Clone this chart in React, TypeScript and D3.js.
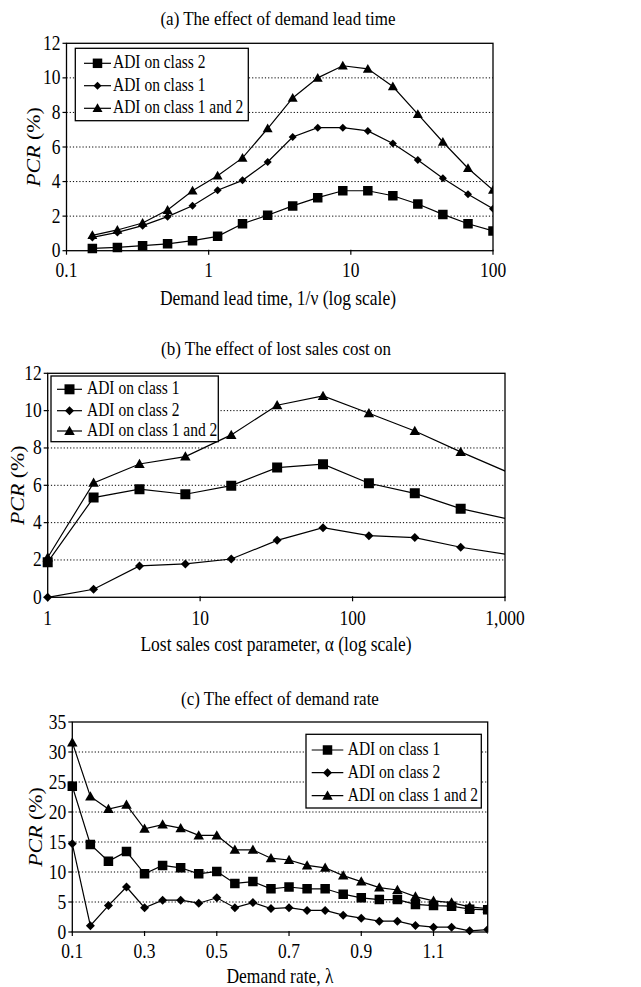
import * as d3 from "d3";

// (a) demand lead time
const leadTime = [0.152, 0.228, 0.343, 0.514, 0.77, 1.156, 1.73, 2.6, 3.9, 5.85, 8.78, 13.17, 19.75, 29.6, 44.4, 66.7, 100];
const leadClass2 = [0.13, 0.19, 0.29, 0.4, 0.58, 0.83, 1.56, 2.05, 2.59, 3.07, 3.47, 3.47, 3.18, 2.7, 2.1, 1.56, 1.14];
const leadClass1 = [0.77, 1.06, 1.45, 1.97, 2.6, 3.5, 4.07, 5.13, 6.58, 7.12, 7.12, 6.93, 6.2, 5.25, 4.19, 3.26, 2.43];
const leadBoth = [0.89, 1.2, 1.6, 2.35, 3.47, 4.34, 5.37, 7.07, 8.84, 10.0, 10.7, 10.52, 9.5, 7.9, 6.29, 4.77, 3.51];

// (b) lost sales cost
const alpha = [1, 2, 4, 8, 16, 32, 64, 128, 256, 512, 1024];
const costClass1 = [1.88, 5.34, 5.79, 5.52, 5.98, 6.95, 7.13, 6.11, 5.57, 4.75, 4.21];
const costClass2 = [0, 0.43, 1.68, 1.79, 2.05, 3.05, 3.73, 3.3, 3.2, 2.68, 2.3];
const costBoth = [2.13, 6.13, 7.14, 7.54, 8.7, 10.29, 10.79, 9.86, 8.91, 7.79, 6.73];

// (c) demand rate
const lambda = [0.1, 0.15, 0.2, 0.25, 0.3, 0.35, 0.4, 0.45, 0.5, 0.55, 0.6, 0.65, 0.7, 0.75, 0.8, 0.85, 0.9, 0.95, 1.0, 1.05, 1.1, 1.15, 1.2, 1.25];
const rateClass1 = [24.3, 14.6, 11.8, 13.4, 9.7, 11.1, 10.7, 9.7, 10.1, 8.1, 8.4, 7.2, 7.5, 7.2, 7.2, 6.3, 5.7, 5.4, 5.4, 4.6, 4.4, 4.3, 3.8, 3.7];
const rateClass2 = [14.7, 1.05, 4.4, 7.5, 4.05, 5.3, 5.3, 4.8, 5.7, 4.05, 4.9, 3.9, 4.05, 3.6, 3.6, 2.8, 2.3, 1.8, 1.8, 1.1, 0.8, 0.8, 0.2, 0.4];
const rateBoth = [31.6, 22.6, 20.5, 21.2, 17.2, 17.9, 17.3, 16.1, 16.1, 13.7, 13.7, 12.3, 12.0, 11.1, 10.7, 9.4, 8.4, 7.4, 7.0, 5.9, 5.2, 4.9, 4.2, 3.9];

const leadTicks = [0.1, 1, 10, 100];
const alphaTicks = [1, 10, 100, 1000];
const lambdaTicks = [0.1, 0.3, 0.5, 0.7, 0.9, 1.1];
const pcrTicks12 = [0, 2, 4, 6, 8, 10, 12];
const pcrTicks35 = [0, 5, 10, 15, 20, 25, 30, 35];

const FONT = "'Liberation Serif', 'Times New Roman', serif";
const STRETCH = 1.15; // the scanned figure is a bit taller than wide

function marker(kind, size) {
  const h = size / 2;
  if (kind === "square") return `M${-h},${-h}H${h}V${h}H${-h}Z`;
  if (kind === "diamond") return `M0,${-h}L${h},0L0,${h}L${-h},0Z`;
  return `M0,${-h * 1.05}L${h * 1.05},${h * 0.8}L${-h * 1.05},${h * 0.8}Z`;
}

function Txt({ x, y, size, anchor = "start", rotate = 0, children }) {
  const rot = rotate ? ` rotate(${rotate})` : "";
  return (
    <text transform={`translate(${x},${y}) scale(1,${STRETCH})${rot}`} fontSize={size} textAnchor={anchor}>
      {children}
    </text>
  );
}

function Panel({ id, title, xTitle, x, ticks, tickFmt, yMax, yTicks, series, box, legend, titleY, tickY, xTitleY, yLabelX, centerX }) {
  const [l, r, t, b] = box;
  const sx = x.copy().range([l, r]);
  const sy = d3.scaleLinear().domain([0, yMax]).range([b, t]);
  const line = d3.line().x((d) => sx(d[0])).y((d) => sy(d[1]));
  const clip = `clip-${id}`;
  return (
    <g fontFamily={FONT} fill="#000">
      <defs>
        <clipPath id={clip}>
          <rect x={l - 6} y={t - 6} width={r - l + 6} height={b - t + 12} />
        </clipPath>
      </defs>
      <Txt x={centerX} y={titleY} size={17} anchor="middle">{title}</Txt>
      {yTicks.slice(1, -1).map((v) => (
        <line key={v} x1={l} x2={r} y1={sy(v)} y2={sy(v)} stroke="#000" strokeWidth={1} strokeDasharray="1.2,2" />
      ))}
      <rect x={l} y={t} width={r - l} height={b - t} fill="none" stroke="#000" strokeWidth={1.3} />
      {yTicks.map((v) => (
        <g key={v}>
          <line x1={l - 4} x2={l} y1={sy(v)} y2={sy(v)} stroke="#000" strokeWidth={1.2} />
          <Txt x={l - 6} y={sy(v) + 6.5} size={17.5} anchor="end">{v}</Txt>
        </g>
      ))}
      {ticks.map((v) => (
        <g key={v}>
          <line x1={sx(v)} x2={sx(v)} y1={b - 1} y2={b + 4} stroke="#000" strokeWidth={1.2} />
          <Txt x={sx(v)} y={tickY} size={17.5} anchor="middle">{tickFmt(v)}</Txt>
        </g>
      ))}
      <Txt x={centerX} y={xTitleY} size={17.5} anchor="middle">{xTitle}</Txt>
      <Txt x={yLabelX} y={(t + b) / 2} size={19} anchor="middle" rotate={-90}>
        <tspan fontStyle="italic">PCR</tspan> (%)
      </Txt>
      <g clipPath={`url(#${clip})`}>
        {series.map((s) => (
          <g key={s.name}>
            <path d={line(s.xs.map((xv, i) => [xv, s.ys[i]]))} fill="none" stroke="#000" strokeWidth={1.2} />
            {s.xs.map((xv, i) =>
              sx(xv) <= r + 0.5 ? (
                <path key={i} transform={`translate(${sx(xv)},${sy(s.ys[i])})`} d={marker(s.kind, s.size)} fill="#000" />
              ) : null
            )}
          </g>
        ))}
      </g>
      <rect x={legend.x} y={legend.y} width={legend.w} height={legend.h} fill="#fff" stroke="#000" strokeWidth={1.3} />
      {series.map((s, i) => {
        const cy = legend.rows[i];
        return (
          <g key={s.name}>
            <line x1={legend.lx0} x2={legend.lx1} y1={cy} y2={cy} stroke="#000" strokeWidth={1.2} />
            <path transform={`translate(${(legend.lx0 + legend.lx1) / 2},${cy})`} d={marker(s.kind, s.size)} fill="#000" />
            <Txt x={legend.tx} y={cy + 5} size={15.5}>{s.name}</Txt>
          </g>
        );
      })}
    </g>
  );
}

export default function App() {
  const fmtLog = (v) => (v >= 1000 ? d3.format(",")(v) : String(v));
  return (
    <svg width={641} height={987} style={{ position: "absolute", left: 0, top: 0, background: "#fff" }}>
      <rect width={641} height={987} fill="#fff" />
      <Panel
        id="a"
        title="(a) The effect of demand lead time"
        xTitle="Demand lead time, 1/ν (log scale)"
        x={d3.scaleLog().domain([0.1, 100])}
        ticks={leadTicks}
        tickFmt={fmtLog}
        yMax={12}
        yTicks={pcrTicks12}
        box={[66.5, 493, 43.3, 250.7]}
        centerX={278}
        titleY={24.5}
        tickY={276.7}
        xTitleY={305}
        yLabelX={40}
        legend={{ x: 75.3, y: 48.3, w: 173, h: 72.4, rows: [63.3, 85.7, 108.3], lx0: 84, lx1: 111, tx: 113 }}
        series={[
          { name: "ADI on class 2", kind: "square", size: 9.5, xs: leadTime, ys: leadClass2 },
          { name: "ADI on class 1", kind: "diamond", size: 8, xs: leadTime, ys: leadClass1 },
          { name: "ADI on class 1 and 2", kind: "triangle", size: 9.5, xs: leadTime, ys: leadBoth },
        ]}
      />
      <Panel
        id="b"
        title="(b) The effect of lost sales cost on"
        xTitle="Lost sales cost parameter, α (log scale)"
        x={d3.scaleLog().domain([1, 1000])}
        ticks={alphaTicks}
        tickFmt={fmtLog}
        yMax={12}
        yTicks={pcrTicks12}
        box={[47.7, 505, 373.3, 597.3]}
        centerX={276}
        titleY={355}
        tickY={625}
        xTitleY={651}
        yLabelX={23.5}
        legend={{ x: 51, y: 376, w: 167.3, h: 65.7, rows: [389.3, 410.7, 431], lx0: 57, lx1: 82, tx: 87 }}
        series={[
          { name: "ADI on class 1", kind: "square", size: 10, xs: alpha, ys: costClass1 },
          { name: "ADI on class 2", kind: "diamond", size: 9, xs: alpha, ys: costClass2 },
          { name: "ADI on class 1 and 2", kind: "triangle", size: 10, xs: alpha, ys: costBoth },
        ]}
      />
      <Panel
        id="c"
        title="(c) The effect of demand rate"
        xTitle="Demand rate, λ"
        x={d3.scaleLinear().domain([0.1, 1.25])}
        ticks={lambdaTicks}
        tickFmt={(v) => String(v)}
        yMax={35}
        yTicks={pcrTicks35}
        box={[72.3, 487.7, 722, 932]}
        centerX={280}
        titleY={705}
        tickY={958}
        xTitleY={983}
        yLabelX={42}
        legend={{ x: 306, y: 734.3, w: 175.3, h: 73.7, rows: [750, 772.7, 795.7], lx0: 311.7, lx1: 343.3, tx: 347.7 }}
        series={[
          { name: "ADI on class 1", kind: "square", size: 9.5, xs: lambda, ys: rateClass1 },
          { name: "ADI on class 2", kind: "diamond", size: 9, xs: lambda, ys: rateClass2 },
          { name: "ADI on class 1 and 2", kind: "triangle", size: 10, xs: lambda, ys: rateBoth },
        ]}
      />
    </svg>
  );
}
